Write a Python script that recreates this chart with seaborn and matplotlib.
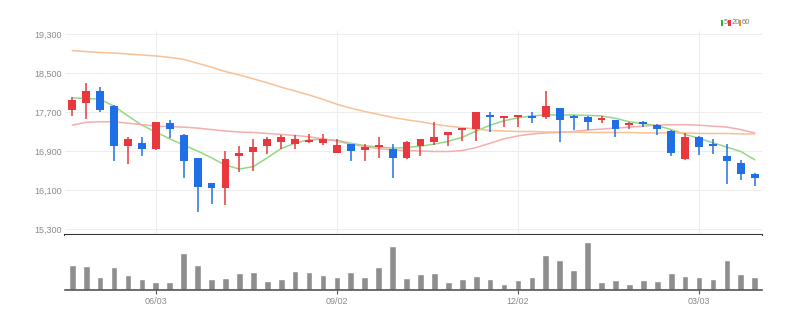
import matplotlib
matplotlib.use("Agg")
import matplotlib.pyplot as plt
from matplotlib.patches import Rectangle
import numpy as np
import pandas as pd
import seaborn as sns

# Weekly OHLC candles (50 weeks)
opens = [17750, 17890, 18130, 17830, 17000, 17070, 16940, 17480, 17230, 16750,
         16240, 16150, 16800, 16880, 17000, 17090, 17050, 17080, 17070, 16850,
         17040, 16930, 16990, 16940, 16750, 17000, 17090, 17240, 17330, 17350,
         17630, 17580, 17590, 17620, 17590, 17780, 17620, 17590, 17530, 17530,
         17440, 17500, 17440, 17310, 16740, 17180, 17040, 16800, 16650, 16430]
highs = [18010, 18290, 18210, 17850, 17190, 17190, 17500, 17540, 17240, 16750,
         16250, 16890, 17000, 17140, 17180, 17230, 17230, 17240, 17240, 17140,
         17050, 17040, 17190, 17040, 17100, 17150, 17490, 17290, 17360, 17690,
         17690, 17600, 17640, 17690, 18130, 17790, 17630, 17620, 17620, 17540,
         17500, 17510, 17450, 17330, 17270, 17210, 17140, 17040, 16720, 16440]
lows = [17620, 17550, 17690, 16690, 16640, 16800, 16930, 17160, 16340, 15650,
        15810, 15790, 16460, 16480, 16840, 16940, 16940, 17060, 17030, 16850,
        16700, 16700, 16750, 16340, 16740, 16800, 17020, 17000, 17100, 17110,
        17300, 17400, 17390, 17470, 17550, 17090, 17330, 17340, 17470, 17190,
        17350, 17400, 17230, 16800, 16710, 16820, 16840, 16220, 16310, 16180]
closes = [17940, 18130, 17750, 17000, 17140, 16940, 17500, 17350, 16700, 16170,
          16150, 16730, 16850, 16990, 17140, 17190, 17140, 17130, 17140, 17030,
          16890, 16980, 17030, 16750, 17090, 17140, 17190, 17280, 17360, 17690,
          17590, 17600, 17630, 17580, 17820, 17540, 17590, 17490, 17570, 17350,
          17480, 17450, 17350, 16850, 17180, 16990, 17020, 16700, 16430, 16350]

# Moving averages (5, 20, 60 weeks)
ma5 = [17990, 17980, 17960, 17820, 17620, 17430, 17290, 17150, 17020, 16900,
       16760, 16610, 16530, 16580, 16760, 16950, 17060, 17130, 17140, 17120,
       17060, 17010, 16980, 16960, 16970, 17000, 17040, 17100, 17180, 17310,
       17430, 17520, 17580, 17620, 17640, 17640, 17640, 17630, 17620, 17570,
       17500, 17460, 17420, 17340, 17240, 17160, 17070, 16980, 16890, 16720]
ma20 = [17430, 17490, 17500, 17500, 17470, 17440, 17410, 17400, 17390, 17370,
        17340, 17310, 17290, 17280, 17260, 17240, 17220, 17190, 17150, 17100,
        17040, 16990, 16950, 16920, 16910, 16900, 16890, 16890, 16910, 16970,
        17060, 17150, 17210, 17250, 17270, 17280, 17300, 17330, 17350, 17370,
        17390, 17410, 17430, 17440, 17440, 17430, 17410, 17390, 17340, 17270]
ma60 = [18960, 18940, 18920, 18910, 18890, 18870, 18850, 18820, 18780, 18700,
        18620, 18530, 18460, 18380, 18300, 18210, 18130, 18050, 17960, 17860,
        17780, 17710, 17650, 17590, 17540, 17500, 17450, 17410, 17380, 17350,
        17320, 17310, 17300, 17300, 17290, 17290, 17290, 17280, 17280, 17280,
        17280, 17270, 17270, 17270, 17270, 17260, 17260, 17260, 17250, 17250]

# Weekly volume (thousand shares)
volume = [750, 730, 380, 700, 460, 320, 250, 230, 1100, 740,
          340, 370, 520, 550, 280, 330, 560, 550, 460, 380,
          550, 380, 700, 1320, 370, 470, 520, 230, 340, 410,
          320, 190, 290, 380, 1060, 900, 590, 1450, 250, 290,
          170, 290, 280, 500, 430, 380, 330, 900, 480, 380]

week = list(range(len(opens)))
date_tick_pos = [6, 19, 32, 45]
date_tick_labels = ["06/03", "09/02", "12/02", "03/03"]
price_ticks = [15300, 16100, 16900, 17700, 18500, 19300]
ma_names = ["5", "20", "60"]

RED = "#e8383d"
BLUE = "#1f70e6"
GRAY_BAR = "#8e8e8e"
MA_COLORS = {"5": "#95d883", "20": "#f6adad", "60": "#f7c196"}
LEGEND_COLORS = {"5": "#2bb52b", "20": "#e8383d", "60": "#f0902a"}
LABEL_GRAY = "#8a8a8a"

sns.set_theme(style="white")
plt.rcParams["font.family"] = ["Liberation Sans Narrow", "Liberation Sans", "DejaVu Sans"]

W, H = 805, 326
fig = plt.figure(figsize=(W / 100, H / 100), dpi=100)


def px_box(left, top, right, bottom):
    return [left / W, 1 - bottom / H, (right - left) / W, (bottom - top) / H]


ax = fig.add_axes(px_box(65, 31, 762, 234.5))
axv = fig.add_axes(px_box(65, 234.5, 762, 290))

df = pd.DataFrame({"week": week, "open": opens, "high": highs,
                   "low": lows, "close": closes})
up = df["close"] >= df["open"]
colors = np.where(up, RED, BLUE)

# moving-average lines
ma_df = pd.DataFrame({"week": week, "5": ma5, "20": ma20, "60": ma60})
ma_long = ma_df.melt(id_vars="week", var_name="line", value_name="value")
sns.lineplot(data=ma_long, x="week", y="value", hue="line",
             hue_order=ma_names, palette=MA_COLORS, linewidth=1.1,
             legend=False, ax=ax, zorder=2)

# candles: wicks and bodies
ax.vlines(df["week"], df["low"], df["high"], colors=colors, linewidth=1.1, zorder=3)
body_h = np.maximum((df["close"] - df["open"]).abs(), 45)
body_mid = (df["close"] + df["open"]) / 2
ax.bar(df["week"], body_h, bottom=body_mid - body_h / 2, width=0.56,
       color=colors, linewidth=0, zorder=4)

ax.set_xlim(-0.52, 49.52)
ax.set_ylim(15187, 19362)
ax.set_yticks(price_ticks)
ax.set_yticklabels([f"{v:,}" for v in price_ticks])
ax.set_xticks(date_tick_pos)
ax.tick_params(axis="x", length=0, labelbottom=False)
ax.tick_params(axis="y", length=0, pad=2, labelsize=6.5, labelcolor=LABEL_GRAY)
ax.grid(True, color="#ededed", linewidth=0.8)
ax.set_axisbelow(True)
ax.set_xlabel("")
ax.set_ylabel("")
for side in ("top", "right", "left"):
    ax.spines[side].set_visible(False)
ax.spines["bottom"].set_color("#333333")
ax.spines["bottom"].set_linewidth(1.5)

# volume bars
sns.barplot(x=week, y=volume, native_scale=True, color=GRAY_BAR,
            saturation=1, width=0.48, ax=axv, zorder=2)
axv.set_xlim(-0.52, 49.52)
axv.set_ylim(0, 1666)
axv.set_yticks([])
axv.set_xticks(date_tick_pos)
axv.set_xticklabels(date_tick_labels)
axv.tick_params(axis="x", length=3, width=0.8, color="#555555", direction="out",
                pad=2, labelsize=6.5, labelcolor=LABEL_GRAY, bottom=True)
axv.set_xlabel("")
axv.set_ylabel("")
axv.grid(False)
for side in ("top", "right", "left"):
    axv.spines[side].set_visible(False)
axv.spines["bottom"].set_color("#555555")
axv.spines["bottom"].set_linewidth(1.2)

# legend: small colour markers with period labels
legend_items = [("5", 720.5, 723.3), ("20", 728.4, 731.2), ("60", 739.0, 741.8)]
for name, sq_x, tx_x in legend_items:
    fig.add_artist(Rectangle((sq_x / W, 1 - 26 / H), 2.3 / W, 6.5 / H,
                             transform=fig.transFigure,
                             color=LEGEND_COLORS[name], linewidth=0))
    fig.text(tx_x / W, 1 - 22.8 / H, name, fontsize=5.5, color="#7a7a7a",
             va="center", ha="left")

fig.savefig("out.png", dpi=100)
